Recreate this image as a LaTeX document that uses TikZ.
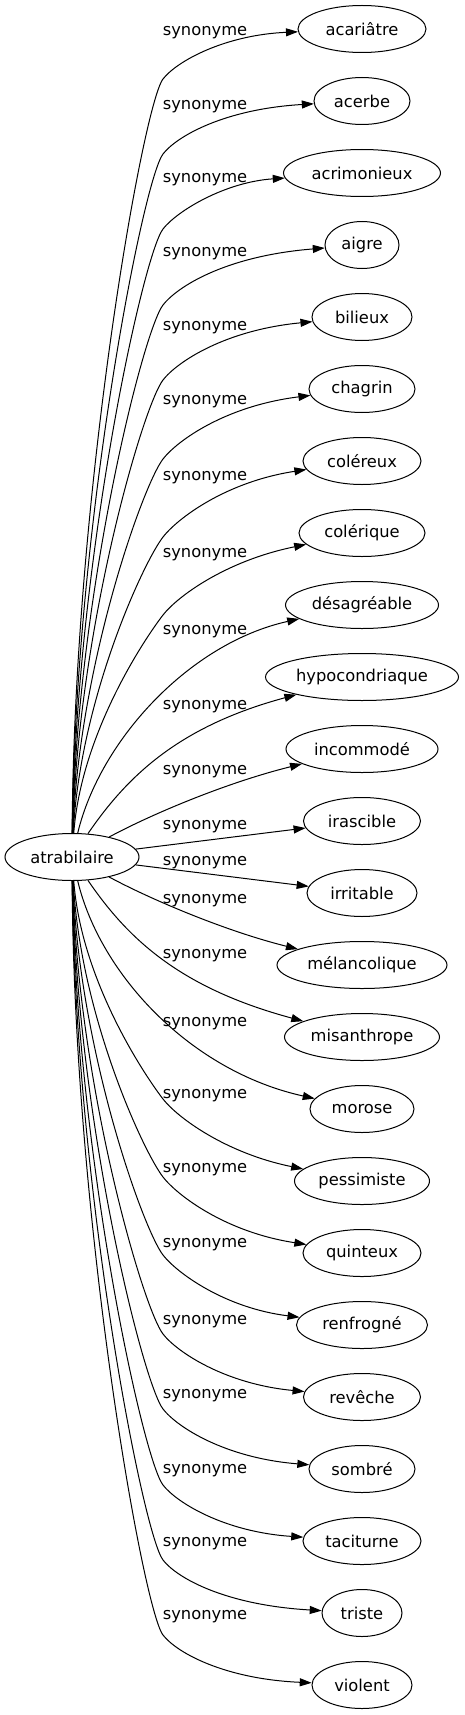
\documentclass[tikz,border=0pt]{standalone}
\usepackage{fontspec}
\setmainfont{DejaVu Sans}
\usetikzlibrary{shapes.geometric,arrows.meta}
\tikzset{
    mot/.style={draw,ellipse,line width=1pt,inner sep=0pt,minimum height=47pt,font=\fontsize{16.3}{19}\selectfont},
    lien/.style={line width=1pt,-{Triangle[length=12pt,width=8pt]}},
    etiq/.style={inner sep=0pt,font=\fontsize{16.3}{19}\selectfont}
}
\begin{document}
\begin{tikzpicture}[x=1pt,y=-1pt]
        \useasboundingbox (0,0) rectangle (465,1715);

        \node[mot,minimum width=134pt] (atrabilaire) at (72,857) {atrabilaire};

        \node[mot,minimum width=128pt] (acariatre) at (362,29) {acariâtre};
        \node[mot,minimum width=96pt] (acerbe) at (362,101) {acerbe};
        \node[mot,minimum width=157pt] (acrimonieux) at (362,173) {acrimonieux};
        \node[mot,minimum width=74pt] (aigre) at (362,245) {aigre};
        \node[mot,minimum width=100pt] (bilieux) at (362,317) {bilieux};
        \node[mot,minimum width=106pt] (chagrin) at (362,389) {chagrin};
        \node[mot,minimum width=118pt] (colereux) at (362,461) {coléreux};
        \node[mot,minimum width=126pt] (colerique) at (362,533) {colérique};
        \node[mot,minimum width=153pt] (desagreable) at (362,605) {désagréable};
        \node[mot,minimum width=193pt] (hypocondriaque) at (362,677) {hypocondriaque};
        \node[mot,minimum width=152pt] (incommode) at (362,749) {incommodé};
        \node[mot,minimum width=117pt] (irascible) at (362,821) {irascible};
        \node[mot,minimum width=110pt] (irritable) at (362,893) {irritable};
        \node[mot,minimum width=170pt] (melancolique) at (362,965) {mélancolique};
        \node[mot,minimum width=155pt] (misanthrope) at (362,1037) {misanthrope};
        \node[mot,minimum width=104pt] (morose) at (362,1109) {morose};
        \node[mot,minimum width=135pt] (pessimiste) at (362,1181) {pessimiste};
        \node[mot,minimum width=118pt] (quinteux) at (362,1253) {quinteux};
        \node[mot,minimum width=131pt] (renfrogne) at (362,1325) {renfrogné};
        \node[mot,minimum width=117pt] (reveche) at (362,1397) {revêche};
        \node[mot,minimum width=106pt] (sombre) at (362,1469) {sombré};
        \node[mot,minimum width=118pt] (taciturne) at (362,1541) {taciturne};
        \node[mot,minimum width=80pt] (triste) at (362,1613) {triste};
        \node[mot,minimum width=100pt] (violent) at (362,1685) {violent};

        \draw[lien] (atrabilaire) .. controls (74,494) and (143,105) .. (163,79) .. controls (177,61) and (225,35) .. (acariatre);
        \draw[lien] (atrabilaire) .. controls (75,527) and (143,180) .. (163,154) .. controls (177,136) and (225,109) .. (acerbe);
        \draw[lien] (atrabilaire) .. controls (76,561) and (143,255) .. (163,229) .. controls (177,211) and (225,182) .. (acrimonieux);
        \draw[lien] (atrabilaire) .. controls (77,595) and (143,331) .. (163,305) .. controls (177,287) and (225,256) .. (aigre);
        \draw[lien] (atrabilaire) .. controls (78,629) and (143,406) .. (163,380) .. controls (177,362) and (225,330) .. (bilieux);
        \draw[lien] (atrabilaire) .. controls (79,665) and (143,485) .. (163,459) .. controls (177,441) and (225,406) .. (chagrin);
        \draw[lien] (atrabilaire) .. controls (80,700) and (143,563) .. (163,537) .. controls (177,519) and (225,482) .. (colereux);
        \draw[lien] (atrabilaire) .. controls (81,735) and (143,641) .. (163,615) .. controls (177,597) and (225,561) .. (colerique);
        \draw[lien] (atrabilaire) .. controls (100,740) and (190,643) .. (desagreable);
        \draw[lien] (atrabilaire) .. controls (128,775) and (180,726) .. (hypocondriaque);
        \draw[lien] (atrabilaire) .. controls (150,815) and (225,783) .. (incommode);
        \draw[lien] (atrabilaire) -- (irascible);
        \draw[lien] (atrabilaire) -- (irritable);
        \draw[lien] (atrabilaire) .. controls (150,899) and (225,931) .. (melancolique);
        \draw[lien] (atrabilaire) .. controls (128,939) and (180,988) .. (misanthrope);
        \draw[lien] (atrabilaire) .. controls (100,974) and (190,1071) .. (morose);
        \draw[lien] (atrabilaire) .. controls (81,979) and (143,1073) .. (163,1099) .. controls (177,1117) and (225,1153) .. (pessimiste);
        \draw[lien] (atrabilaire) .. controls (80,1014) and (143,1151) .. (163,1177) .. controls (177,1195) and (225,1232) .. (quinteux);
        \draw[lien] (atrabilaire) .. controls (79,1049) and (143,1229) .. (163,1255) .. controls (177,1273) and (225,1308) .. (renfrogne);
        \draw[lien] (atrabilaire) .. controls (78,1085) and (143,1308) .. (163,1334) .. controls (177,1352) and (225,1384) .. (reveche);
        \draw[lien] (atrabilaire) .. controls (77,1119) and (143,1383) .. (163,1409) .. controls (177,1427) and (225,1458) .. (sombre);
        \draw[lien] (atrabilaire) .. controls (76,1153) and (143,1459) .. (163,1485) .. controls (177,1503) and (225,1532) .. (taciturne);
        \draw[lien] (atrabilaire) .. controls (75,1187) and (143,1534) .. (163,1560) .. controls (177,1578) and (225,1605) .. (triste);
        \draw[lien] (atrabilaire) .. controls (74,1220) and (143,1609) .. (163,1635) .. controls (177,1653) and (225,1679) .. (violent);

        \node[etiq] (s0) at (205,33) {synonyme};
        \node[etiq] (s1) at (205,107) {synonyme};
        \node[etiq] (s2) at (205,180) {synonyme};
        \node[etiq] (s3) at (205,254) {synonyme};
        \node[etiq] (s4) at (205,328) {synonyme};
        \node[etiq] (s5) at (205,402) {synonyme};
        \node[etiq] (s6) at (205,478) {synonyme};
        \node[etiq] (s7) at (205,555) {synonyme};
        \node[etiq] (s8) at (205,632) {synonyme};
        \node[etiq] (s9) at (205,707) {synonyme};
        \node[etiq] (s10) at (205,772) {synonyme};
        \node[etiq] (s11) at (205,827) {synonyme};
        \node[etiq] (s12) at (205,863) {synonyme};
        \node[etiq] (s13) at (205,901) {synonyme};
        \node[etiq] (s14) at (205,956) {synonyme};
        \node[etiq] (s15) at (205,1024) {synonyme};
        \node[etiq] (s16) at (205,1096) {synonyme};
        \node[etiq] (s17) at (205,1170) {synonyme};
        \node[etiq] (s18) at (205,1245) {synonyme};
        \node[etiq] (s19) at (205,1322) {synonyme};
        \node[etiq] (s20) at (205,1396) {synonyme};
        \node[etiq] (s21) at (205,1471) {synonyme};
        \node[etiq] (s22) at (205,1544) {synonyme};
        \node[etiq] (s23) at (205,1617) {synonyme};
\end{tikzpicture}
\end{document}
